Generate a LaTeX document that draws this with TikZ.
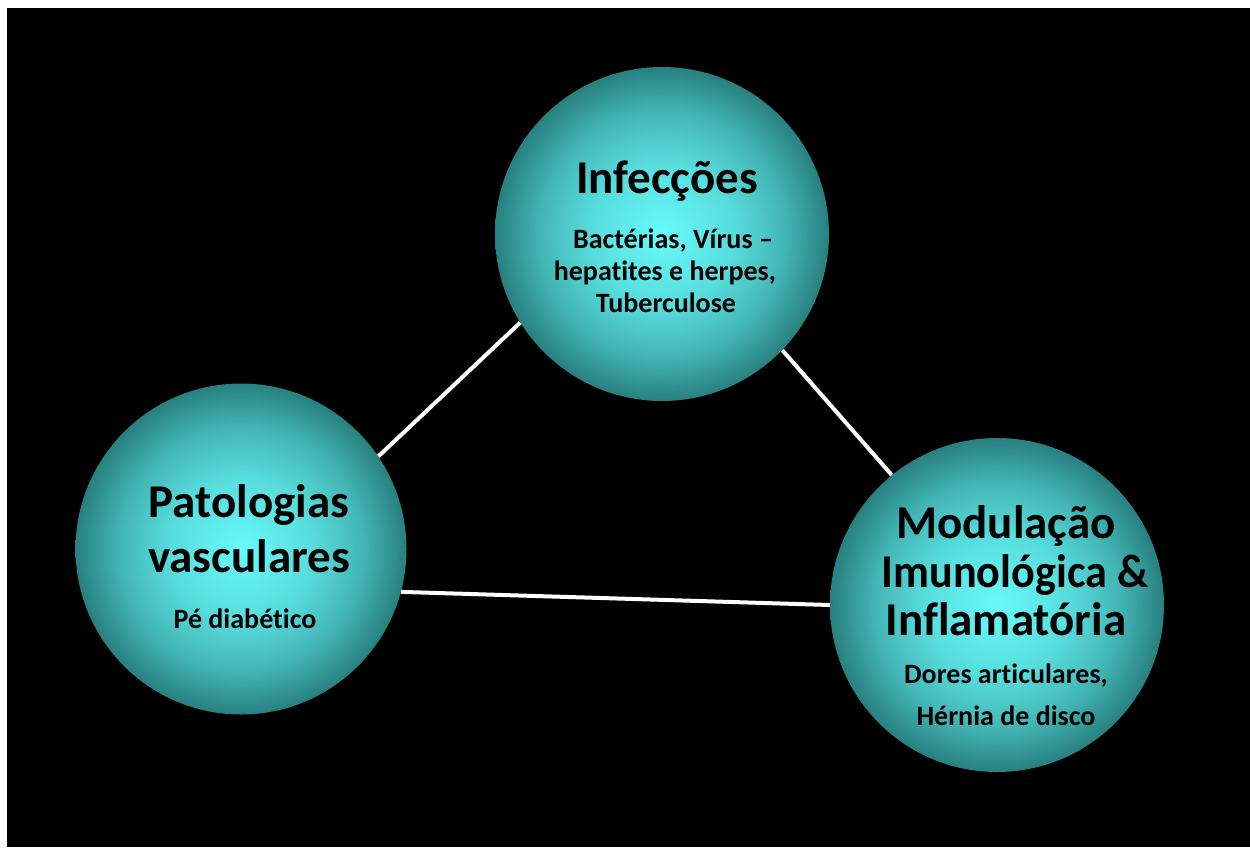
\documentclass[tikz,border=0pt]{standalone}
\usepackage{fontspec}
\setmainfont{Carlito}[Ligatures=NoCommon]
\definecolor{ctr}{RGB}{104,250,250}
\definecolor{cA}{RGB}{88,220,220}
\definecolor{cB}{RGB}{68,182,182}
\definecolor{rim}{RGB}{40,128,128}
\pgfdeclareradialshading{ballshade}{\pgfpoint{0bp}{0bp}}{color(0bp)=(ctr); color(10.75bp)=(cA); color(18.25bp)=(cB); color(25bp)=(rim); color(50bp)=(rim)}
\begin{document}
\begin{tikzpicture}[x=1pt,y=-1pt,
  ball/.style={circle, inner sep=0pt, shading=ballshade},
  ttl/.style={anchor=base, text=black, font=\bfseries\fontsize{47}{56}\selectfont},
  sub/.style={anchor=base, text=black, font=\bfseries\fontsize{28}{33}\selectfont},
  conn/.style={draw=white, line width=4pt}]
\fill[white] (0,0) rectangle (1250,847);
\fill[black] (7,8) rectangle (1250,847);
\useasboundingbox (0,0) rectangle (1250,847);

\node[ball, minimum size=334pt] (inf) at (662,234) {};
\node[ball, minimum size=331pt] (pat) at (241,549) {};
\node[ball, minimum size=334pt] (mod) at (997,605) {};

\draw[conn] (inf.212.6) -- (pat.34.9);
\draw[conn] (inf.316.7) -- (mod.129);
\draw[conn] (pat.-15.9) -- (mod.180.3);

\node[ttl] (inft) at (667,193) {Infecções};
\node[sub] (infs1) at (673,248) {Bactérias, Vírus –};
\node[sub] (infs2) at (665,280) {hepatites e herpes,};
\node[sub] (infs3) at (666,312) {Tuberculose};

\node[ttl] (patt1) at (249,517) {Patologias};
\node[ttl] (patt2) at (249,572) {vasculares};
\node[sub] (pats) at (245,628) {Pé diabético};

\node[ttl] (modt1) at (1006,538) {Modulação};
\node[ttl] (modt2) at (1015,587) {\scalebox{0.94}[1]{Imunológica \&}};
\node[ttl] (modt3) at (1006,635) {Inflamatória};
\node[sub] (mods1) at (1006,683) {Dores articulares,};
\node[sub] (mods2) at (1006,725) {Hérnia de disco};
\end{tikzpicture}
\end{document}
